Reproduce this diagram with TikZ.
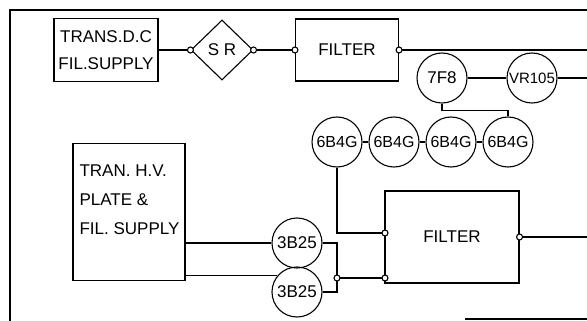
\documentclass[tikz,border=0pt]{standalone}
\usepackage{fontspec}
\setmainfont{Liberation Sans}
\usetikzlibrary{positioning,shapes.geometric,calc}

\begin{document}
\begin{tikzpicture}[x=1pt,y=-1pt,line width=1.1pt,
  font=\fontsize{17}{20}\selectfont,
  tube/.style={circle,draw,minimum size=50pt,inner sep=0pt},
  blk/.style={draw,rectangle,inner sep=0pt},
  term/.style={circle,draw,fill=white,inner sep=0pt,minimum size=6pt}]
\useasboundingbox (0,0) rectangle (587,321);
% frame
\draw (587,10) -- (10,10) -- (10,321);
\draw (465,319) -- (587,319);
\coordinate (outA) at (587,50);
\coordinate (outB) at (587,78);
\coordinate (outC) at (587,237);

% top chain
\node[blk,minimum width=104pt,minimum height=63pt,align=center,
  font=\fontsize{17}{27}\selectfont] (dcsupply) at (106,50) {TRANS.D.C\\FIL.SUPPLY};
\node[diamond,draw,inner sep=0pt,minimum width=62pt,minimum height=60pt] (sr) at (222,50) {S R};
\node[blk,minimum width=103pt,minimum height=62pt] (filtA) at (347,50) {FILTER};
\node[tube] (t7f8) at (442,78) {7F8};
\node[tube,font=\fontsize{15}{18}\selectfont] (tvr) at (532,78) {VR105};

% 6B4G row
\foreach \i/\x in {1/337,2/394,3/451,4/508}
  \node[tube,font=\fontsize{16}{18}\selectfont] (b\i) at (\x,142) {6B4G};
\foreach \i/\j in {1/2,2/3,3/4}
  \draw (b\i.east) -- (b\j.west);

% lower chain
\node[blk,minimum width=112pt,minimum height=137pt] (hvsupply) at (129,212) {};
\node[inner sep=0pt,anchor=north west,align=left,
  font=\fontsize{17}{29}\selectfont] (hvtext) at (79,164) {TRAN. H.V.\\PLATE \&\\FIL. SUPPLY};
\node[tube] (uptube) at (297,243) {3B25};
\node[tube] (lowtube) at (297,292) {3B25};
\node[blk,minimum width=134pt,minimum height=92pt] (filtB) at (452,237) {FILTER};
\coordinate (inB1) at (385,233);
\coordinate (inB2) at (385,278);
\coordinate (jn) at (337,278);

% wiring
\draw (dcsupply.east) -- (sr.west);
\draw (sr.east) -- (filtA.west);
\draw (filtA.east) -- (outA);
\draw (t7f8.east) -- (tvr.west);
\draw (tvr.east) -- (outB);
\draw (t7f8.south) -- ++(0,7) -| (b4.north);
\draw (b1.south) |- (inB1);
\draw (hvsupply.east |- uptube.west) -- (uptube.west);
\draw (lowtube.140 -| hvsupply.east) -- (lowtube.140);
\draw (uptube.east) -| (jn);
\draw (lowtube.east) -| (jn);
\draw (jn) -- (inB2);
\draw (filtB.east) -- (outC);

% terminals
\foreach \p/\n in {sr.west/ta,sr.east/tb,filtA.west/tc,filtA.east/td,inB1/te,inB2/tf,jn/tg,filtB.east/th}
  \node[term] (\n) at (\p) {};
\end{tikzpicture}
\end{document}
